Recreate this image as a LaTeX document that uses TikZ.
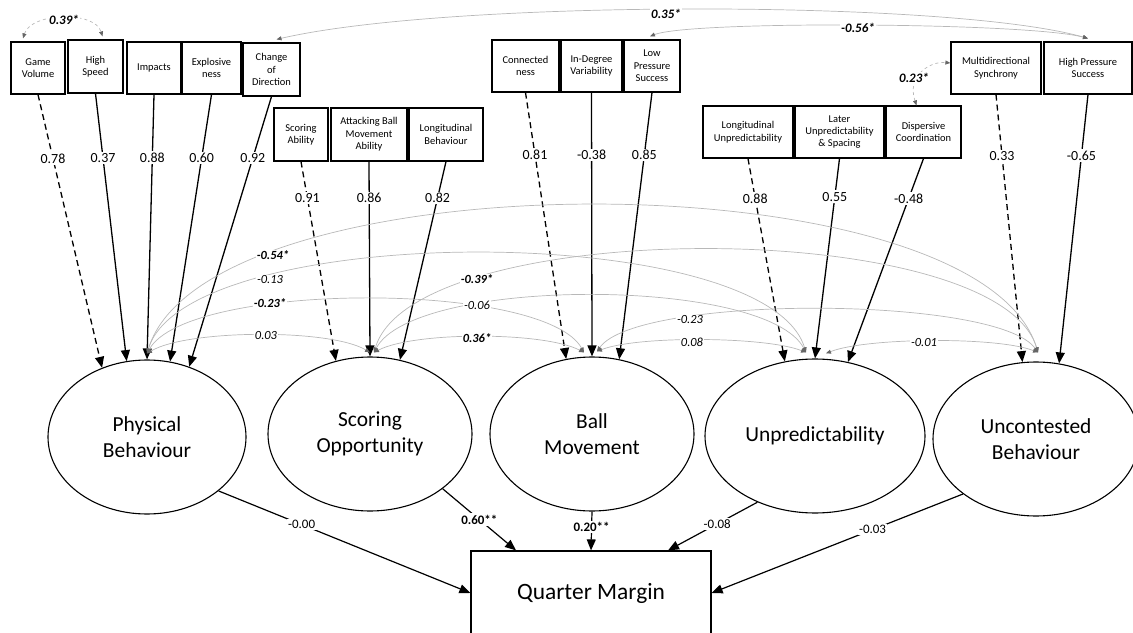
\documentclass[tikz,border=0pt]{standalone}
\usepackage{fontspec}
\setmainfont{Carlito}
\usetikzlibrary{arrows.meta,shapes.geometric}
\begin{document}
\begin{tikzpicture}[x=1bp,y=-1bp,
  ind/.style={draw,line width=1.2bp,rectangle,inner sep=0pt,align=center,font=\fontsize{10.5}{12.5}\selectfont},
  lat/.style={draw,line width=1.1bp,ellipse,inner sep=0pt,minimum height=154bp,align=center,font=\fontsize{21.5}{26}\selectfont},
  load/.style={line width=1.3bp,-{Triangle[length=11bp,width=9bp]}},
  loaddash/.style={load,dash pattern=on 6bp off 4bp},
  ll/.style={fill=white,inner sep=1.5bp,font=\fontsize{14}{15}\selectfont},
  cov/.style={draw=black!28,line width=0.7bp,{Triangle[length=5bp,width=4bp,color=black!60]}-{Triangle[length=5bp,width=4bp,color=black!60]}},
  icov/.style={cov},
  icovd/.style={cov,dash pattern=on 3bp off 3bp},
  cl/.style={fill=white,inner sep=1bp,font=\fontsize{12.5}{13}\selectfont\itshape},
  clb/.style={fill=white,inner sep=1bp,font=\fontsize{12.5}{13}\selectfont\bfseries\itshape},
  clt/.style={fill=white,inner sep=1.5bp,font=\fontsize{13}{14}\selectfont\bfseries\itshape},
  struct/.style={line width=1.2bp,-{Triangle[length=11bp,width=9bp]}},
  bl/.style={fill=white,inner sep=1.5bp,font=\fontsize{13}{14}\selectfont},
  blb/.style={fill=white,inner sep=1.5bp,font=\fontsize{13}{14}\selectfont\bfseries}
]
\useasboundingbox (0,0) rectangle (1133,633);

% indicator boxes
\node[ind,minimum width=54bp,minimum height=52bp] (gv) at (38,68) {Game\\Volume};
\node[ind,minimum width=55bp,minimum height=53bp] (hs) at (95.5,66.5) {High\\Speed};
\node[ind,minimum width=54bp,minimum height=52bp] (imp) at (154,68) {Impacts};
\node[ind,minimum width=59bp,minimum height=52bp] (exp) at (211.5,68) {Explosive\\ness};
\node[ind,minimum width=57bp,minimum height=53bp] (cod) at (271.5,69.5) {Change\\of\\Direction};

\node[ind,minimum width=54bp,minimum height=53bp] (sa) at (301,134.5) {Scoring\\Ability};
\node[ind,minimum width=76bp,minimum height=53bp] (abm) at (369,134.5) {Attacking Ball\\Movement\\Ability};
\node[ind,minimum width=74bp,minimum height=53bp] (lb) at (446,134.5) {Longitudinal\\Behaviour};

\node[ind,minimum width=67bp,minimum height=52bp] (con) at (525.5,66) {Connected\\ness};
\node[ind,minimum width=61bp,minimum height=52bp] (idv) at (591.5,66) {In-Degree\\Variability};
\node[ind,minimum width=56bp,minimum height=52bp] (lps) at (652,66) {Low\\Pressure\\Success};

\node[ind,minimum width=90bp,minimum height=52bp] (lu) at (748,132) {Longitudinal\\Unpredictability};
\node[ind,minimum width=89bp,minimum height=52bp] (lus) at (839.5,132) {Later\\Unpredictability\\\& Spacing};
\node[ind,minimum width=75bp,minimum height=52bp] (dc) at (923.5,132) {Dispersive\\Coordination};

\node[ind,minimum width=90bp,minimum height=52bp] (ms) at (996,68) {Multidirectional\\Synchrony};
\node[ind,minimum width=88bp,minimum height=52bp] (hps) at (1088,68) {High Pressure\\Success};

% latent variables
\node[lat,minimum width=198bp] (phys) at (147,437) {Physical\\Behaviour};
\node[lat,minimum width=204bp] (scor) at (370,434) {Scoring\\Opportunity};
\node[lat,minimum width=204bp] (ball) at (592,434) {Ball\\Movement};
\node[lat,minimum width=220bp] (unp) at (815,436) {Unpredictability};
\node[lat,minimum width=206bp] (unc) at (1036,439) {Uncontested\\Behaviour};

% outcome
\node[draw,line width=1.2bp,minimum width=240bp,minimum height=84bp,inner sep=0pt,font=\fontsize{23.5}{27}\selectfont] (qm) at (591,593) {Quarter Margin};

% loadings
\draw[loaddash] (gv.south) -- node[ll,pos=0.234]{0.78} (phys.123.3);
\draw[load] (hs.south) -- node[ll,pos=0.242]{0.37} (phys.105.6);
\draw[load] (imp.south) -- node[ll,pos=0.237]{0.88} (phys.90);
\draw[load] (exp.south) -- node[ll,pos=0.237]{0.60} (phys.73.7);
\draw[load] (cod.south) -- node[ll,pos=0.227]{0.92} (phys.59.7);

\draw[loaddash] (sa.south) -- node[ll,pos=0.183]{0.91} (scor.115.8);
\draw[load] (abm.south) -- node[ll,pos=0.186]{0.86} (scor.90);
\draw[load] (lb.south) -- node[ll,pos=0.183]{0.82} (scor.68.5);

\draw[loaddash] (con.south) -- node[ll,pos=0.234]{0.81} (ball.109.2);
\draw[load] (idv.south) -- node[ll,pos=0.236]{-0.38} (ball.90);
\draw[load] (lps.south) -- node[ll,pos=0.234]{0.85} (ball.70);

\draw[loaddash] (lu.south) -- node[ll,pos=0.196]{0.88} (unp.112.1);
\draw[load] (lus.south) -- node[ll,pos=0.19]{0.55} (unp.90);
\draw[load] (dc.south) -- node[ll,pos=0.196]{-0.48} (unp.66.5);

\draw[loaddash] (ms.south) -- node[ll,pos=0.228]{0.33} (unc.100.4);
\draw[load] (hps.south) -- node[ll,pos=0.226]{-0.65} (unc.73);

% indicator covariances
\coordinate (gvT) at ([xshift=-15bp,yshift=3bp]gv.north);
\coordinate (hsT) at ([xshift=7bp,yshift=3bp]hs.north);
\coordinate (codT) at ([xshift=5bp,yshift=3bp]cod.north);
\coordinate (hpsT) at ([yshift=3bp]hps.north);
\coordinate (lpsT) at ([xshift=-2bp,yshift=3bp]lps.north);
\coordinate (dcT) at ([xshift=-7bp]dc.north);
\coordinate (msL) at ([yshift=5bp]ms.west);

\draw[icovd] (gvT) .. controls +(8,-26) and +(-8,-26) .. (hsT);
\draw[icov] (codT) .. controls +(173,-40) and +(-138,-39) .. (hpsT);
\draw[icov] (lpsT) .. controls +(40,-16) and +(-60,-16) .. (hpsT);
\draw[icovd] (dcT) .. controls +(-10,-30) and +(-20,-2) .. (msL);
\node[clt] at (64,20) {0.39*};
\node[clt] at (666,14) {0.35*};
\node[clt] at (858,28) {-0.56*};
\node[clt] at (914,78) {0.23*};

% latent covariances
\coordinate (pT) at ([yshift=6bp]phys.north);
\coordinate (sIn) at ([yshift=4bp]scor.north);
\coordinate (sOut) at ([xshift=4bp,yshift=4bp]scor.north);
\coordinate (bIn) at ([xshift=-8bp,yshift=4bp]ball.north);
\coordinate (bOut) at ([xshift=5bp,yshift=5bp]ball.north);
\coordinate (uIn) at ([xshift=-9bp,yshift=6bp]unp.north);
\coordinate (uOut) at ([xshift=11bp,yshift=5bp]unp.north);
\coordinate (cIn) at ([xshift=2bp,yshift=9bp]unc.north);

\draw[cov] (pT) .. controls +(60,-197) and +(-60,-197) .. (cIn);
\draw[cov] (pT) .. controls +(40,-133) and +(-40,-133) .. (uIn);
\draw[cov] (pT) .. controls +(40,-72) and +(-40,-72) .. (bIn);
\draw[cov] (pT) .. controls +(40,-24) and +(-40,-24) .. (sIn);
\draw[cov] (sOut) .. controls +(40,-21) and +(-40,-21) .. (bIn);
\draw[cov] (sOut) .. controls +(40,-76) and +(-40,-76) .. (uIn);
\draw[cov] (sOut) .. controls +(40,-137) and +(-40,-137) .. (cIn);
\draw[cov] (bOut) .. controls +(40,-16) and +(-40,-16) .. (uIn);
\draw[cov] (bOut) .. controls +(40,-57) and +(-40,-57) .. (cIn);
\draw[cov] (uOut) .. controls +(40,-16) and +(-40,-16) .. (cIn);

\node[clb] at (273,255) {-0.54*};
\node[cl] at (270,280) {-0.13};
\node[clb] at (270,303) {-0.23*};
\node[cl] at (266,336) {0.03};
\node[clb] at (477,279) {-0.39*};
\node[cl] at (477,305) {-0.06};
\node[clb] at (477,338) {0.36*};
\node[cl] at (690,320) {-0.23};
\node[cl] at (692,342) {0.08};
\node[cl] at (924,343) {-0.01};

% structural paths
\coordinate (qmA) at ([xshift=-75bp]qm.north);
\coordinate (qmC) at ([xshift=77bp]qm.north);
\draw[struct] (phys.-37) -- node[bl,pos=0.33]{-0.00} (qm.west);
\draw[struct] (scor.-37) -- node[blb,pos=0.5]{0.60**} (qmA);
\draw[struct] (ball.south) -- node[blb,pos=0.4]{0.20**} (qm.north);
\draw[struct] (unp.-131) -- node[bl,pos=0.45]{-0.08} (qmC);
\draw[struct] (unc.-143) -- node[bl,pos=0.36]{-0.03} (qm.east);
\end{tikzpicture}
\end{document}
